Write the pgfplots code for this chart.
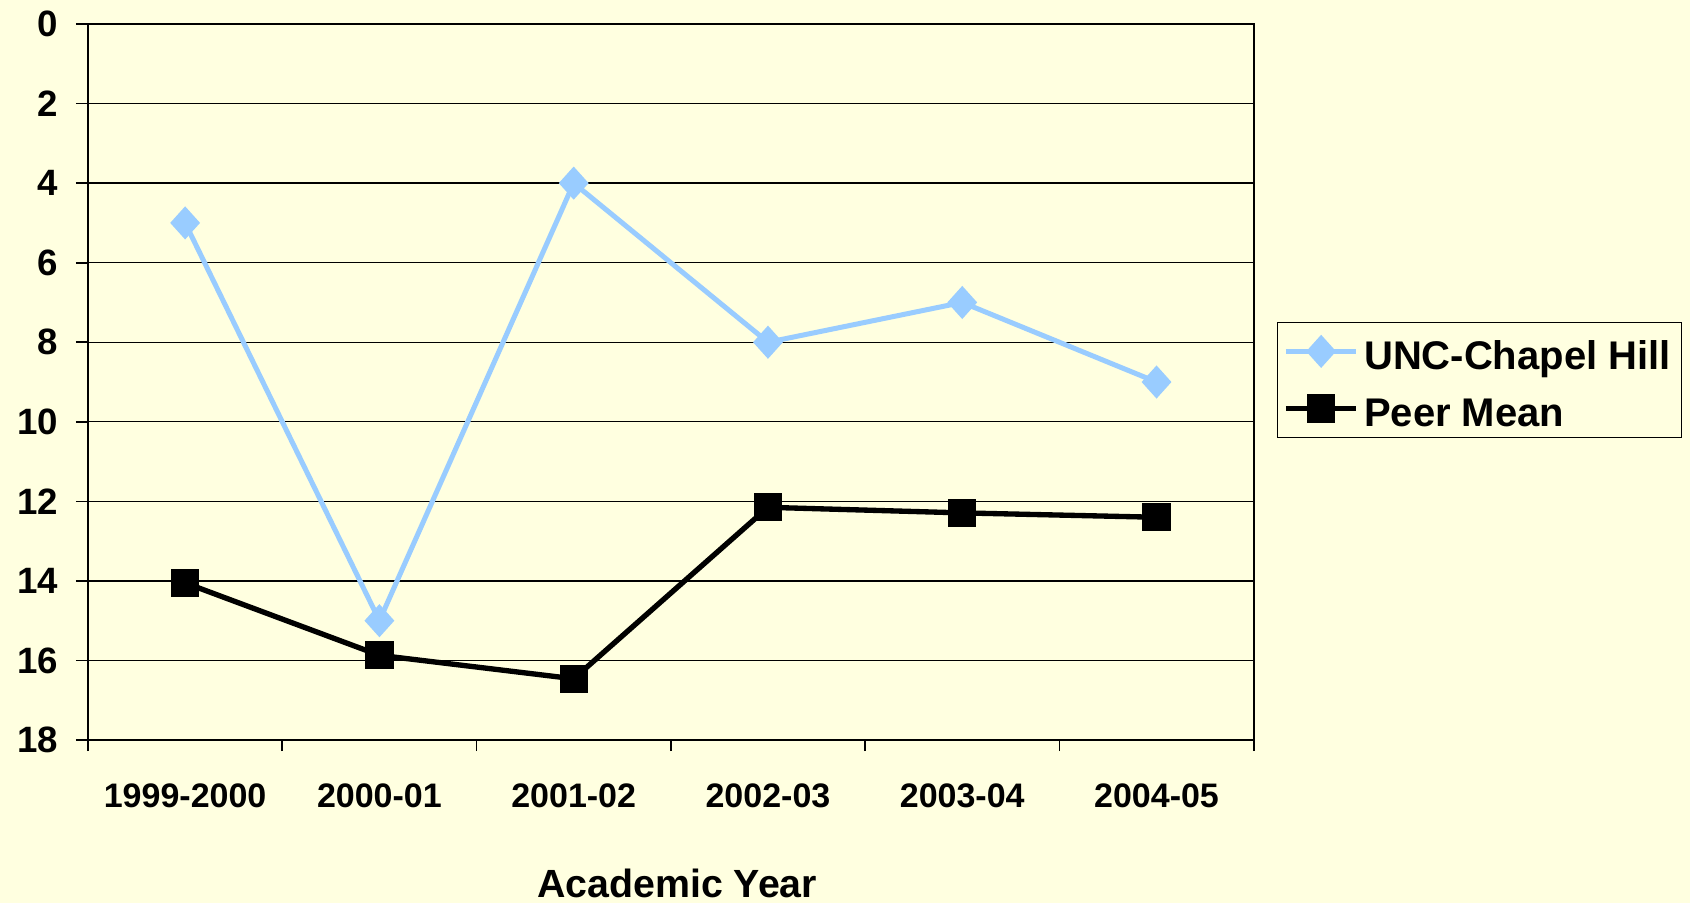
\documentclass[border=0pt]{standalone}
\usepackage{fontspec}
\setmainfont{Liberation Sans}
\usepackage{pgfplots}
\pgfplotsset{compat=1.18}
\usetikzlibrary{backgrounds}
\definecolor{bgyellow}{RGB}{255,255,224}
\definecolor{uncblue}{RGB}{153,204,255}

\begin{document}
\begin{tikzpicture}
\begin{axis}[
  scale only axis, width=349.7pt, height=214.8pt,
  xmin=0.5, xmax=6.5, ymin=0, ymax=18, y dir=reverse,
  xtick={1,...,6},
  xticklabels={1999-2000,2000-01,2001-02,2002-03,2003-04,2004-05},
  minor xtick={0.5,1.5,...,6.5},
  ytick={0,2,...,18},
  xtick pos=bottom, ytick pos=left,
  ymajorgrids, grid style={black, line width=0.4pt},
  axis line style={black, line width=0.5pt},
  tick align=outside, major tick length=3.6pt, minor tick length=3.3pt,
  tick style={black, line width=0.5pt},
  major x tick style={draw=none},
  /pgf/number format/assume math mode=true,
  yticklabel style={font=\fontsize{11}{12}\selectfont\bfseries, xshift=-1.8pt},
  xticklabel style={font=\fontsize{10.2}{12}\selectfont\bfseries, anchor=base, yshift=-16.7pt},
  xlabel={Academic Year},
  xlabel style={font=\fontsize{11.8}{13}\selectfont\bfseries, at={(axis description cs:0.5,0)}, anchor=base, yshift=-47.3pt, xshift=1.9pt},
  legend cell align=left,
  legend style={at={(axis description cs:1.0197,0.503)}, anchor=west, draw=black, line width=0.5pt,
    fill=bgyellow, font=\fontsize{12}{14}\selectfont\bfseries,
    inner xsep=1.7pt, inner ysep=1.2pt, row sep=2.1pt,
    nodes={inner xsep=1.5pt, inner ysep=2pt, text height=11pt, text depth=0pt}},
  legend image code/.code={\draw[mark repeat=2,mark phase=2] plot coordinates {(0pt,0pt)(10.6pt,0pt)(21.2pt,0pt)};},
]
\coordinate (sw) at (axis description cs:0,0);
\coordinate (ne) at (axis description cs:1,1);
\addplot[uncblue, line width=1.5pt, mark=diamond*, mark size=4.6pt,
  mark options={solid, fill=uncblue, line width=0.5pt, xscale=1.2}] coordinates {
  (1,5) (2,15) (3,4) (4,8) (5,7) (6,9)
};
\addlegendentry{UNC-Chapel Hill}
\addplot[black, line width=1.6pt, mark=square*, mark size=4pt,
  mark options={solid, fill=black, line width=0.5pt}] coordinates {
  (1,14.05) (2,15.87) (3,16.46) (4,12.15) (5,12.29) (6,12.4)
};
\addlegendentry{Peer Mean}
\end{axis}
\begin{scope}[on background layer]
\fill[bgyellow] ([xshift=-26.4pt,yshift=-48.9pt]sw) rectangle ([xshift=130.9pt,yshift=7.2pt]ne);
\end{scope}
\pgfresetboundingbox
\path ([xshift=-26.4pt,yshift=-48.9pt]sw) rectangle ([xshift=130.9pt,yshift=7.2pt]ne);
\end{tikzpicture}
\end{document}
